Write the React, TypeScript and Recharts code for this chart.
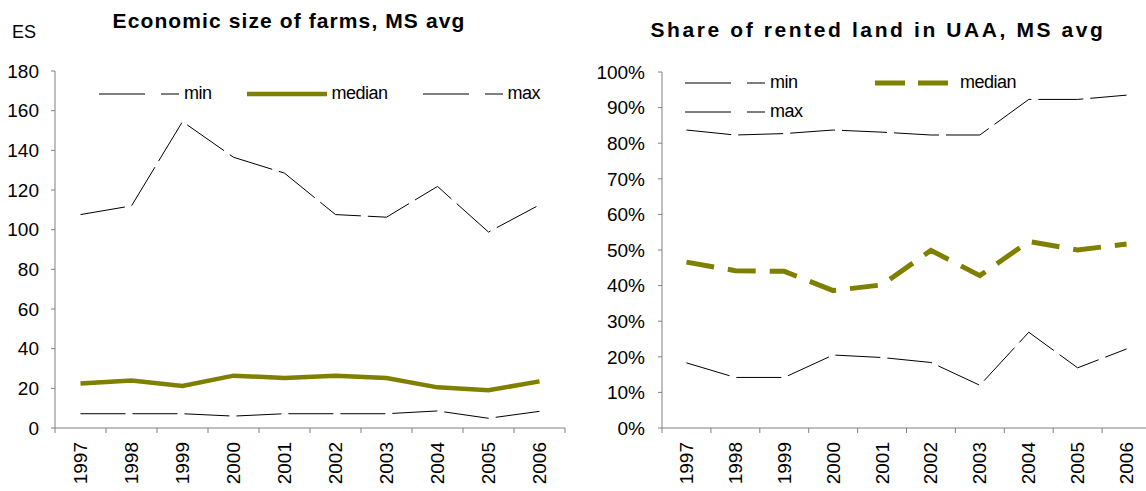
import React from "react";
import { LineChart, Line, XAxis, YAxis, Legend } from "recharts";

const years = ["1997", "1998", "1999", "2000", "2001", "2002", "2003", "2004", "2005", "2006"];

// economic size (ES)
const esMin = [7.2, 7.2, 7.2, 6.0, 7.2, 7.2, 7.2, 8.6, 4.9, 8.4];
const esMedian = [22.4, 24.0, 21.2, 26.4, 25.2, 26.4, 25.2, 20.5, 19.0, 23.5];
const esMax = [107.6, 112.0, 154.5, 136.5, 128.5, 107.6, 106.3, 121.8, 98.8, 112.5];
const esTicks = [0, 20, 40, 60, 80, 100, 120, 140, 160, 180];

// share of rented land (%)
const rentMin = [18.3, 14.2, 14.2, 20.5, 19.8, 18.4, 12.0, 26.9, 16.9, 22.2];
const rentMedian = [46.6, 44.2, 44.0, 38.6, 40.2, 49.9, 42.8, 52.4, 50.0, 51.7];
const rentMax = [83.7, 82.3, 82.7, 83.7, 83.1, 82.3, 82.3, 92.3, 92.3, 93.5];
const rentTicks = [0, 10, 20, 30, 40, 50, 60, 70, 80, 90, 100];

const esData = years.map((y, i) => ({ year: y, min: esMin[i], median: esMedian[i], max: esMax[i] }));
const rentData = years.map((y, i) => ({ year: y, min: rentMin[i], median: rentMedian[i], max: rentMax[i] }));

const FONT = "'Liberation Sans', Arial, sans-serif";
const OLIVE = "#808000";
const AXIS = "#808080";

// x tick: year label rotated, tick marks sit between categories (Excel style)
function yearTick(band: number) {
  return (props: any) => {
    const { x, y, payload, index } = props;
    const axisY = y - 14;
    const i = index ?? payload.index;
    return (
      <g>
        <line x1={x - band / 2} x2={x - band / 2} y1={axisY} y2={axisY + 5} stroke={AXIS} />
        {i === years.length - 1 && (
          <line x1={x + band / 2} x2={x + band / 2} y1={axisY} y2={axisY + 5} stroke={AXIS} />
        )}
        <text
          x={x}
          y={y}
          transform={`rotate(-90 ${x} ${y})`}
          textAnchor="end"
          dominantBaseline="central"
          fontSize={19}
          fontFamily={FONT}
          fill="#000"
        >
          {payload.value}
        </text>
      </g>
    );
  };
}

function Sample({ color, width, dash }: { color: string; width: number; dash?: string }) {
  return (
    <svg width={80} height={10} style={{ display: "block" }}>
      <line x1={0} x2={80} y1={5} y2={5} stroke={color} strokeWidth={width} strokeDasharray={dash} />
    </svg>
  );
}

function LegendItem({ label, children, gap }: { label: string; children: React.ReactNode; gap: number }) {
  return (
    <div style={{ display: "flex", alignItems: "center", marginRight: gap }}>
      {children}
      <span style={{ marginLeft: 5, fontSize: 18, fontFamily: FONT, color: "#000", letterSpacing: -0.5 }}>{label}</span>
    </div>
  );
}

const thinDash = "46 16";

function EsLegend() {
  return (
    <div style={{ display: "flex", alignItems: "center" }}>
      <LegendItem label="min" gap={35}>
        <Sample color="#000" width={1} dash={thinDash} />
      </LegendItem>
      <LegendItem label="median" gap={35}>
        <Sample color={OLIVE} width={4.5} />
      </LegendItem>
      <LegendItem label="max" gap={0}>
        <Sample color="#000" width={1} dash={thinDash} />
      </LegendItem>
    </div>
  );
}

function RentLegend() {
  return (
    <div style={{ display: "grid", gridTemplateColumns: "190px 200px", rowGap: 8 }}>
      <LegendItem label="min" gap={0}>
        <Sample color="#000" width={1} dash={thinDash} />
      </LegendItem>
      <LegendItem label="median" gap={0}>
        <Sample color={OLIVE} width={5} dash="30 13" />
      </LegendItem>
      <LegendItem label="max" gap={0}>
        <Sample color="#000" width={1} dash={thinDash} />
      </LegendItem>
    </div>
  );
}

export default function App() {
  return (
    <div style={{ position: "absolute", left: 0, top: 0, width: 1146, height: 491, overflow: "hidden", background: "#fff", fontFamily: FONT }}>
      <div style={{ position: "absolute", left: 0, top: 9, width: 578, textAlign: "center", fontSize: 21, fontWeight: "bold", letterSpacing: 1.1 }}>
        Economic size of farms, MS avg
      </div>
      <div style={{ position: "absolute", left: 12, top: 22, fontSize: 18 }}>ES</div>
      <div style={{ position: "absolute", left: 600, top: 18, width: 556, textAlign: "center", fontSize: 21, fontWeight: "bold", letterSpacing: 2.6 }}>
        Share of rented land in UAA, MS avg
      </div>

      <div style={{ position: "absolute", left: 0, top: 0 }}>
        <LineChart width={570} height={491} data={esData} margin={{ top: 71, right: 5, left: 10, bottom: 0 }}>
          <XAxis
            dataKey="year"
            height={63}
            padding={{ left: 25.5, right: 25.5 }}
            stroke={AXIS}
            tickLine={false}
            tickSize={6}
            tickMargin={8}
            interval={0}
            tick={yearTick(51)}
          />
          <YAxis
            width={45}
            domain={[0, 180]}
            ticks={esTicks}
            interval={0}
            stroke={AXIS}
            tickSize={4}
            tickMargin={12}
            tick={{ fill: "#000", fontSize: 19, fontFamily: FONT }}
          />
          <Legend
            layout="horizontal"
            verticalAlign="middle"
            align="center"
            content={<EsLegend />}
            wrapperStyle={{ position: "absolute", left: 99, top: 83, width: "auto" }}
          />
          <Line dataKey="min" stroke="#000" strokeWidth={1} strokeDasharray="45 7" dot={false} activeDot={false} isAnimationActive={false} />
          <Line dataKey="median" stroke={OLIVE} strokeWidth={4.5} dot={false} activeDot={false} isAnimationActive={false} />
          <Line dataKey="max" stroke="#000" strokeWidth={1} strokeDasharray="45 7" dot={false} activeDot={false} isAnimationActive={false} />
        </LineChart>
      </div>

      <div style={{ position: "absolute", left: 575, top: 0 }}>
        <LineChart width={576} height={491} data={rentData} margin={{ top: 72, right: 0, left: 12, bottom: 0 }}>
          <XAxis
            dataKey="year"
            height={63}
            padding={{ left: 24.45, right: 24.45 }}
            stroke={AXIS}
            tickLine={false}
            tickSize={6}
            tickMargin={8}
            interval={0}
            tick={yearTick(48.9)}
          />
          <YAxis
            width={75}
            domain={[0, 100]}
            ticks={rentTicks}
            interval={0}
            stroke={AXIS}
            tickSize={4}
            tickMargin={13}
            tickFormatter={(v: number) => `${v}%`}
            tick={{ fill: "#000", fontSize: 19, fontFamily: FONT }}
          />
          <Legend
            layout="horizontal"
            verticalAlign="middle"
            align="center"
            content={<RentLegend />}
            wrapperStyle={{ position: "absolute", left: 110, top: 72, width: "auto" }}
          />
          <Line dataKey="min" stroke="#000" strokeWidth={1} strokeDasharray="45 7" dot={false} activeDot={false} isAnimationActive={false} />
          <Line dataKey="median" stroke={OLIVE} strokeWidth={5} strokeDasharray="28 14" dot={false} activeDot={false} isAnimationActive={false} />
          <Line dataKey="max" stroke="#000" strokeWidth={1} strokeDasharray="45 7" dot={false} activeDot={false} isAnimationActive={false} />
        </LineChart>
      </div>
    </div>
  );
}
